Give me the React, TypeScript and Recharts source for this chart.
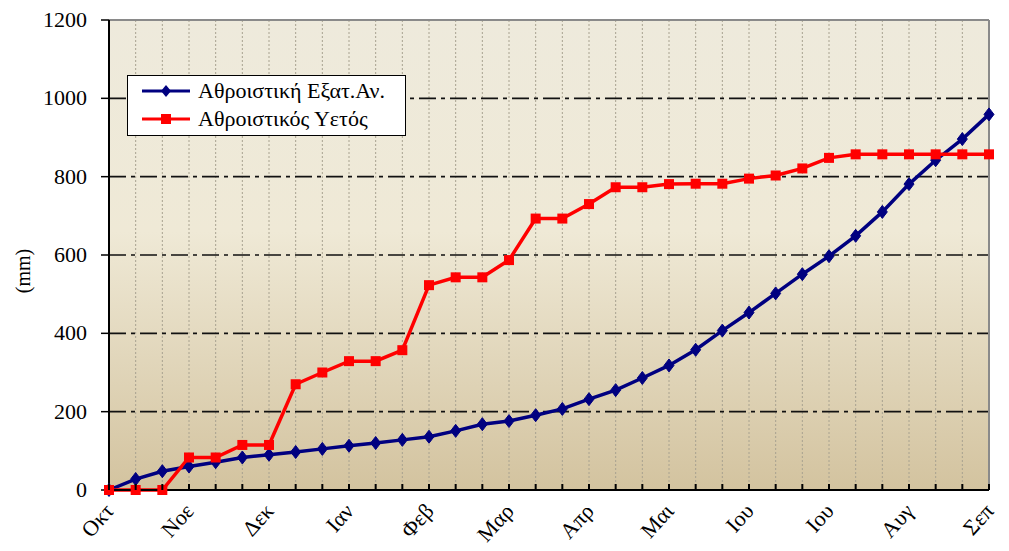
import {
  LineChart,
  Line,
  XAxis,
  YAxis,
  CartesianGrid,
  ReferenceLine,
  Legend,
} from "recharts";

// month labels, one every three 10-day periods
const months = ["Οκτ", "Νοε", "Δεκ", "Ιαν", "Φεβ", "Μαρ", "Απρ", "Μαι", "Ιου", "Ιου", "Αυγ", "Σεπ"];

// cumulative evaporation (mm)
const evap = [
  0, 28, 48, 60, 71, 83, 90, 97, 105, 113, 120, 128, 136, 151, 168, 176, 191,
  207, 232, 255, 286, 318, 358, 407, 453, 502, 551, 597, 649, 710, 781, 842,
  896, 959,
];

// cumulative rainfall (mm)
const rain = [
  0, 0, 0, 83, 83, 115, 115, 270, 300, 329, 329, 357, 523, 543, 543, 587, 693,
  693, 730, 773, 773, 781, 782, 782, 795, 803, 821, 848, 857, 857, 857, 857,
  857, 857,
];

const yTicks = [0, 200, 400, 600, 800, 1000, 1200];
const gridLines = [200, 400, 600, 800, 1000];

const data = evap.map((e, i) => ({ idx: i, evap: e, rain: rain[i] }));

const FONT = '"Liberation Serif", "DejaVu Serif", serif';
const BLUE = "#000080";
const RED = "#FF0000";

function Diamond(props: any) {
  const { cx, cy, index } = props;
  if (cx == null || cy == null) return null;
  return (
    <path
      key={`d${index}`}
      d={`M${cx},${cy - 6.5}L${cx + 5},${cy}L${cx},${cy + 6.5}L${cx - 5},${cy}Z`}
      fill={BLUE}
      stroke={BLUE}
      strokeWidth={1}
    />
  );
}

function Square(props: any) {
  const { cx, cy, index } = props;
  if (cx == null || cy == null) return null;
  return <rect key={`s${index}`} x={cx - 5} y={cy - 5} width={10} height={10} fill={RED} />;
}

function XTick(props: any) {
  const x = Number(props.x);
  const y = Number(props.y);
  const i = Number(props.payload.value);
  const label = i % 3 === 0 ? months[i / 3] : "";
  return (
    <g>
      <line x1={x} x2={x} y1={y - 6} y2={y} stroke="#000" strokeWidth={2} />
      {label && (
        <g transform={`translate(${x + 6}, ${y + 22}) rotate(-48)`}>
          <text x={0} y={0} textAnchor="end" fontFamily={FONT} fontSize={22} fill="#000">
            {label}
          </text>
        </g>
      )}
    </g>
  );
}

function YTick(props: any) {
  const x = Number(props.x);
  const y = Number(props.y);
  return (
    <text x={x - 6} y={y} dy={7} textAnchor="end" fontFamily={FONT} fontSize={22} fill="#000">
      {props.payload.value}
    </text>
  );
}

function YLabel() {
  return (
    <g transform="translate(30, 271) rotate(-90)">
      <text x={0} y={0} textAnchor="middle" fontFamily={FONT} fontSize={20} fill="#000">
        (mm)
      </text>
    </g>
  );
}

function LegendBox(props: any) {
  const items = props.payload || [];
  return (
    <div
      style={{
        width: 279,
        height: 61,
        background: "#fff",
        border: "1.5px solid #000",
        boxSizing: "border-box",
        fontFamily: FONT,
        fontSize: 22,
        padding: "1px 0 0 14px",
        lineHeight: "28px",
      }}
    >
      {items.map((it: any) => (
        <div key={it.value} style={{ display: "flex", alignItems: "center", height: 28 }}>
          <svg width={50} height={14} style={{ marginRight: 6 }}>
            <line x1={0} x2={48} y1={7} y2={7} stroke={it.color} strokeWidth={3} />
            {it.dataKey === "evap" ? (
              <path d="M24,1L29,7L24,13L19,7Z" fill={BLUE} />
            ) : (
              <rect x={19} y={2} width={10} height={10} fill={RED} />
            )}
          </svg>
          <span>{it.value}</span>
        </div>
      ))}
    </div>
  );
}

export default function App() {
  return (
    <div style={{ position: "absolute", left: 0, top: 0 }}>
      <LineChart
        width={1009}
        height={551}
        data={data}
        margin={{ top: 20, right: 20, bottom: 0, left: 39 }}
      >
        <defs>
          <linearGradient id="bg" x1="0" y1="0" x2="0" y2="1">
            <stop offset="0%" stopColor="#EEEADC" />
            <stop offset="45%" stopColor="#EFE9D6" />
            <stop offset="100%" stopColor="#D3C39F" />
          </linearGradient>
        </defs>
        <CartesianGrid
          horizontal={false}
          stroke="#A8A290"
          strokeDasharray="2 2"
          fill="url(#bg)"
          fillOpacity={1}
        />
        {gridLines.map((v) => (
          <ReferenceLine key={v} y={v} stroke="#111" strokeWidth={1.6} strokeDasharray="17 5 4 5" />
        ))}
        <ReferenceLine y={1200} stroke="#8A8A8A" strokeWidth={2} />
        <ReferenceLine x={33} stroke="#8A8A8A" strokeWidth={2} />
        <XAxis
          dataKey="idx"
          interval={0}
          height={61}
          tickSize={0}
          tickMargin={0}
          tick={XTick}
          axisLine={{ stroke: "#000", strokeWidth: 2 }}
        />
        <YAxis
          width={70}
          domain={[0, 1200]}
          ticks={yTicks}
          interval={0}
          tickSize={8}
          tickMargin={8}
          tickLine={{ stroke: "#000", strokeWidth: 1.5 }}
          axisLine={{ stroke: "#000", strokeWidth: 2 }}
          tick={YTick}
          label={<YLabel />}
        />
        <Legend
          layout="vertical"
          align="center"
          verticalAlign="middle"
          wrapperStyle={{ left: 127, top: 75, width: 279, height: 61 }}
          content={<LegendBox />}
        />
        <Line
          name="Αθροιστική Εξατ.Αν."
          dataKey="evap"
          stroke={BLUE}
          strokeWidth={3.5}
          dot={Diamond}
          isAnimationActive={false}
        />
        <Line
          name="Αθροιστικός Υετός"
          dataKey="rain"
          stroke={RED}
          strokeWidth={3.5}
          dot={Square}
          isAnimationActive={false}
        />
      </LineChart>
    </div>
  );
}
